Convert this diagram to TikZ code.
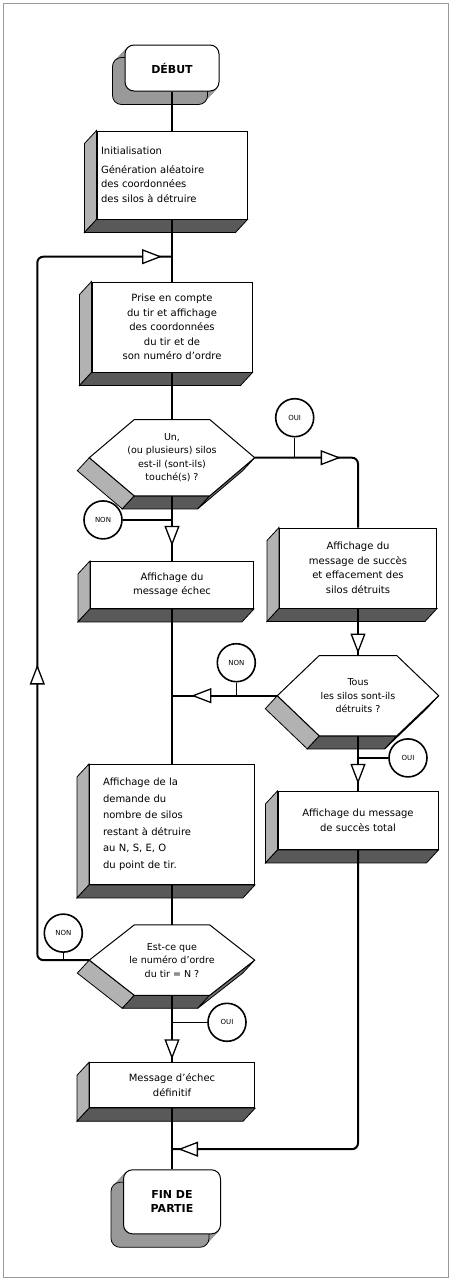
\documentclass[tikz,border=0pt]{standalone}
\usepackage{fontspec}
\setmainfont{DejaVu Sans}
\usetikzlibrary{positioning, calc, arrows.meta, decorations.markings, backgrounds}

\tikzstyle{box} = [rectangle, draw=black, fill=white, line width=1pt, inner sep=0pt, text width=142pt, align=center, font=\fontsize{10}{14.5}\selectfont]
\tikzstyle{lbox} = [box, align=left]
\tikzstyle{term} = [rectangle, rounded corners=9pt, draw=black, fill=white, line width=1pt, inner sep=0pt, align=center, font=\bfseries\fontsize{11}{14}\selectfont]
\tikzstyle{hexa} = [rectangle, inner sep=0pt, align=center, font=\fontsize{9.5}{13.5}\selectfont]
\tikzstyle{circ} = [circle, draw=black, fill=white, line width=1.6pt, minimum size=38pt, inner sep=0pt, font=\fontsize{7}{8}\selectfont]
\tikzstyle{flow} = [line width=2pt]
\tikzstyle{stem} = [line width=1.5pt]
\tikzset{flowtip/.style={postaction={decorate, decoration={markings, mark=at position #1 with {\arrow{Triangle[fill=white, length=20pt, width=15pt, line width=1.3pt]}}}}}}

% extruded sides, drawn behind the faces
\newcommand{\slab}[1]{%
  \begin{scope}[on background layer]
    \filldraw[fill=black!30, line width=0.8pt] (#1.north west) -- ++(-12,-13) -- ($(#1.south west)+(-12,-13)$) -- (#1.south west) -- cycle;
    \filldraw[fill=black!65, line width=0.8pt] (#1.south west) -- ++(-12,-13) -- ($(#1.south east)+(-12,-13)$) -- (#1.south east) -- cycle;
  \end{scope}}
\newcommand{\termslab}[1]{%
  \begin{scope}[on background layer]
    \foreach \k in {1,...,12}
      \fill[black!40, rounded corners=9pt] ($(#1.south west)+(-\k,-1.08*\k)$) rectangle ($(#1.north east)+(-\k,-1.08*\k)$);
    \draw[line width=0.8pt, rounded corners=9pt] ($(#1.south west)+(-12,-13)$) rectangle ($(#1.north east)+(-12,-13)$);
  \end{scope}}
\newcommand{\hexslab}[2]{%
  \begin{scope}[on background layer]
    \coordinate (#1-nw) at ($(#1.north west)+(#2,0)$);
    \coordinate (#1-ne) at ($(#1.north east)+(-#2,0)$);
    \coordinate (#1-se) at ($(#1.south east)+(-#2,0)$);
    \coordinate (#1-sw) at ($(#1.south west)+(#2,0)$);
    \filldraw[fill=black!30, line width=0.8pt] (#1.west) -- (#1-sw) -- ++(-12,-13) -- ($(#1.west)+(-12,-13)$) -- cycle;
    \filldraw[fill=black!65, line width=0.8pt] (#1-sw) -- (#1-se) -- ++(-12,-13) -- ($(#1-sw)+(-12,-13)$) -- cycle;
    \filldraw[fill=black!55, line width=0.8pt] (#1-se) -- (#1.east) -- ++(-12,-13) -- ($(#1-se)+(-12,-13)$) -- cycle;
    \filldraw[fill=white, line width=1pt] (#1.west) -- (#1-nw) -- (#1-ne) -- (#1.east) -- (#1-se) -- (#1-sw) -- cycle;
  \end{scope}}

\begin{document}
\begin{tikzpicture}[x=1pt, y=1pt]

\useasboundingbox (0,0) rectangle (451,-1280);
\draw[black!40, line width=1pt] (3,-3) rectangle (448,-1277);

% main column
\node (start) [term, minimum width=94pt, minimum height=46pt] at (172,-68) {DÉBUT};
\node (init) [lbox, minimum width=150pt, minimum height=88pt, below=39pt of start] {Initialisation\\[4pt] Génération aléatoire\\ des coordonnées\\ des silos à détruire};
\node (prise) [box, minimum width=160pt, minimum height=90pt, below=62pt of init] {Prise en compte\\ du tir et affichage\\ des coordonnées\\ du tir et de\\ son numéro d'ordre};
\node (d1) [hexa, minimum width=165pt, minimum height=76pt, below=47pt of prise] {Un,\\ (ou plusieurs) silos\\ est-il (sont-ils)\\ touché(s) ?};
\node (echec) [box, minimum width=163pt, minimum height=47pt, below=65pt of d1] {Affichage du\\ message échec};
\node (nombre) [lbox, text width=138pt, minimum width=165pt, minimum height=120pt, below=155pt of echec, font=\fontsize{10}{16.5}\selectfont] {Affichage de la\\ demande du\\ nombre de silos\\ restant à détruire\\ au N, S, E, O\\ du point de tir.};
\node (d3) [hexa, minimum width=165pt, minimum height=70pt, below=40pt of nombre] {Est-ce que\\ le numéro d'ordre\\ du tir = N ?};
\node (final) [box, minimum width=165pt, minimum height=45pt, below=67pt of d3] {Message d'échec\\ définitif};
\node (fin) [term, minimum width=97pt, minimum height=64pt, below=61pt of final] {FIN DE\\ PARTIE};

% right column
\node (succes) [box, minimum width=157pt, minimum height=80pt] at (358,-568) {Affichage du\\ message de succès\\ et effacement des\\ silos détruits};
\node (d2) [hexa, minimum width=161pt, minimum height=80pt, below=47pt of succes] {Tous\\ les silos sont-ils\\ détruits ?};
\node (total) [box, minimum width=160pt, minimum height=58pt, below=55pt of d2] {Affichage du message\\ de succès total};

\termslab{start} \termslab{fin}
\slab{init} \slab{prise} \slab{echec} \slab{nombre} \slab{final}
\slab{succes} \slab{total}
\hexslab{d1}{45} \hexslab{d2}{42} \hexslab{d3}{45}

% answers
\node (oui1) [circ] at ($(d1.east)+(40,40)$) {OUI};
\node (non1) [circ] at ($(d1.south)+(-69,-24)$) {NON};
\node (non2) [circ] at ($(d2.west)+(-41,33)$) {NON};
\node (oui2) [circ] at ($(d2.south)+(50,-22)$) {OUI};
\node (non3) [circ] at ($(d3.west)+(-26,27)$) {NON};
\node (oui3) [circ] at ($(d3.south)+(55,-27)$) {OUI};

\coordinate (loop) at ($(init.south)!0.6!(prise.north)$);
\coordinate (join) at ($(final.south)!0.67!(fin.north)$);

\draw [flow] (start) -- (init);
\draw [flow] (init) -- (prise);
\draw [flow] (prise) -- (d1);
\draw [flow, flowtip=50pt] (d1) -- (echec);
\draw [flow] (echec) -- (nombre);
\draw [flow] (nombre) -- (d3);
\draw [flow, flowtip=-3pt] (d3) -- (final);
\draw [flow] (final) -- (fin);

\draw [flow, flowtip=86pt, rounded corners=6pt] (d1.east) -| (succes);
\draw [flow, flowtip=-2pt] (succes) -- (d2);
\draw [flow, flowtip=86pt] (d2.west) -- (d2.west -| echec.south);
\draw [flow, flowtip=-7pt] (d2) -- (total);
\draw [flow, flowtip=-6pt, rounded corners=6pt] (total) |- (join);
\draw [flow, flowtip=345pt, flowtip=-10pt, rounded corners=6pt] (d3.west) -- ++(-52,0) |- (loop);

\draw [stem] (oui1) -- (oui1 |- d1.east);
\draw [stem] (non1) -- (non1 -| d1.south);
\draw [stem] (non2) -- (non2 |- d2.west);
\draw [stem] (oui2) -- (oui2 -| d2.south);
\draw [stem] (non3) -- (non3 |- d3.west);
\draw [stem] (oui3) -- (oui3 -| d3.south);

\end{tikzpicture}
\end{document}
